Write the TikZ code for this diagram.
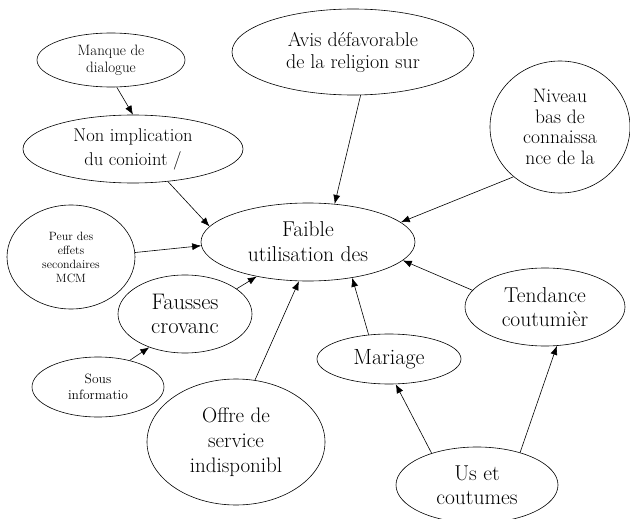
\documentclass[tikz,border=0pt]{standalone}
\usetikzlibrary{shapes.geometric,arrows.meta}
\newcommand{\txtsz}[2]{\fontsize{#1}{#2}\selectfont}
\tikzset{
	bulle/.style={draw, ellipse, inner sep=0pt, align=center, line width=0.6pt},
	cause/.style={-{Latex[length=9pt,width=7pt]}, line width=0.6pt}
}
\begin{document}
\begin{tikzpicture}[x=1pt,y=-1pt]
	\useasboundingbox (0,0) rectangle (630,519);
	\clip (0,0) rectangle (630,519);
	% problem at the centre
	\node[bulle, minimum width=214pt, minimum height=78pt, font=\txtsz{21.5}{25}] (fu) at (308,242) {Faible\\utilisation des};
	% causes
	\node[bulle, minimum width=148pt, minimum height=54pt, font=\txtsz{15}{17}] (mq) at (111,60) {Manque de\\dialogue};
	\node[bulle, minimum width=220pt, minimum height=68pt, font=\txtsz{18.5}{24}] (ni) at (133,149) {Non implication\\du conioint /};
	\node[bulle, minimum width=242pt, minimum height=86pt, font=\txtsz{20}{22}] (av) at (353,52) {Avis défavorable\\de la religion sur};
	\node[bulle, minimum width=140pt, minimum height=132pt, font=\txtsz{19.5}{20.5}] (nb) at (560,127) {Niveau\\bas de\\connaissa\\nce de la};
	\node[bulle, minimum width=128pt, minimum height=104pt, font=\txtsz{12}{14}] (pe) at (71,257) {Peur des\\effets\\secondaires\\MCM};
	\node[bulle, minimum width=134pt, minimum height=78pt, font=\txtsz{22.5}{23.5}] (fc) at (185,314) {Fausses\\crovanc};
	\node[bulle, minimum width=132pt, minimum height=60pt, font=\txtsz{13.5}{16.5}] (si) at (98,387) {Sous\\informatio};
	\node[bulle, minimum width=178pt, minimum height=126pt, font=\txtsz{21}{25}] (os) at (236,442) {Offre de\\service\\indisponibl};
	\node[bulle, minimum width=144pt, minimum height=50pt, font=\txtsz{22}{24}] (ma) at (389,359) {Mariage};
	\node[bulle, minimum width=160pt, minimum height=78pt, font=\txtsz{21.5}{24}] (tc) at (545,307) {Tendance\\coutumièr};
	\node[bulle, minimum width=162pt, minimum height=76pt, font=\txtsz{21.5}{24.5}] (uc) at (477,485) {Us et\\coutumes};
	% links
	\draw[cause] (mq.-78) -- (ni.north);
	\draw[cause] (ni.-43) -- (fu.171);
	\draw[cause] (av.-80) -- (fu.55);
	\draw[cause] (nb.-133) -- (fu.12);
	\draw[cause] (pe.4) -- (fu.182);
	\draw[cause] (fc.26) -- (fu.-146);
	\draw[cause] (tc.167) -- (fu.-11);
	\draw[cause] (ma.130) -- (fu.-39);
	\draw[cause] (os.73) -- (fu.-103);
	\draw[cause] (si.40) -- (fc.-137);
	\draw[cause] (uc.145) -- (ma.-75);
	\draw[cause] (uc.37) -- (tc.-73);
\end{tikzpicture}
\end{document}
